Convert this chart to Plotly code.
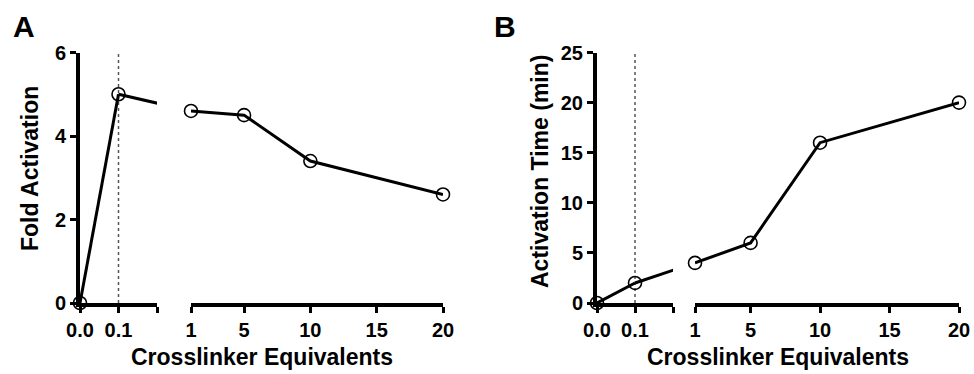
import plotly.graph_objects as go

# ---------------- data ----------------
conc_low = [0.0, 0.1]            # crosslinker equivalents, left (zoomed) segment
conc_high = [1, 5, 10, 20]       # crosslinker equivalents, right segment
fold_low = [0.0, 5.0]            # panel A: fold activation
fold_high = [4.6, 4.5, 3.4, 2.6]
time_low = [0.0, 2.0]            # panel B: activation time (min)
time_high = [4.0, 6.0, 16.0, 20.0]

left_tickvals = [0.0, 0.1, 0.2]
left_ticktext = ["0.0", "0.1", ""]
right_tickvals = [1, 5, 10, 15, 20]
right_ticktext = ["1", "5", "10", "15", "20"]
fold_ticks = [0, 2, 4, 6]
time_ticks = [0, 5, 10, 15, 20, 25]
ref_line_x = 0.1

panel_letters = ["A", "B"]
y_titles = ["Fold Activation", "Activation Time (min)"]
x_title = "Crosslinker Equivalents"

# ---------------- layout geometry ----------------
W, H = 974, 374
left_range = [0, 0.2]
right_range = [1, 20]
ydom = [1 - 303 / H, 1 - 52.5 / H]
dom = {
    "A_left": [80 / W, 157 / W],
    "A_right": [191 / W, 443 / W],
    "B_left": [597 / W, 673 / W],
    "B_right": [695 / W, 959 / W],
}

FONT = "Liberation Sans, Arial, Helvetica, sans-serif"
tickfont = dict(family=FONT, size=20, color="black", weight="bold")
titlefont = dict(family=FONT, size=23, color="black", weight="bold")


def bridge_x(ld, rd):
    """Position of the first right-segment point expressed in left-axis units."""
    span = left_range[1] - left_range[0]
    return left_range[1] + (rd[0] - ld[1]) / (ld[1] - ld[0]) * span


fig = go.Figure()

marker = dict(symbol="circle-open", size=13, color="black", line=dict(width=1.6, color="black"))
line = dict(color="black", width=3)

panels = [
    ("x", "x2", "y", "A_left", "A_right", fold_low, fold_high, fold_ticks),
    ("x3", "x4", "y2", "B_left", "B_right", time_low, time_high, time_ticks),
]
for xl, xr, yy, dl, dr, ylow, yhigh, yt in panels:
    # dotted reference line at 0.1 spanning the full y range
    fig.add_trace(go.Scatter(
        x=[ref_line_x, ref_line_x], y=[yt[0], yt[-1]], mode="lines",
        line=dict(color="#555555", width=1.5, dash="dot"), xaxis=xl, yaxis=yy,
        showlegend=False, hoverinfo="skip"))
    # connector from last low point toward first high point (clipped at break)
    fig.add_trace(go.Scatter(
        x=[conc_low[-1], bridge_x(dom[dl], dom[dr])], y=[ylow[-1], yhigh[0]],
        mode="lines", line=line, xaxis=xl, yaxis=yy, showlegend=False, hoverinfo="skip"))
    fig.add_trace(go.Scatter(
        x=conc_low, y=ylow, mode="lines+markers", line=line, marker=marker,
        cliponaxis=False, xaxis=xl, yaxis=yy, showlegend=False))
    fig.add_trace(go.Scatter(
        x=conc_high, y=yhigh, mode="lines+markers", line=line, marker=marker,
        cliponaxis=False, xaxis=xr, yaxis=yy, showlegend=False))

axis_common = dict(
    showline=True, linewidth=4, linecolor="#000000", ticks="outside", ticklen=6,
    tickwidth=3, tickcolor="#000000", showgrid=False, zeroline=False,
    tickfont=tickfont, automargin=False,
)

fig.update_layout(
    width=W, height=H,
    margin=dict(l=0, r=0, t=0, b=0, autoexpand=False),
    plot_bgcolor="white", showlegend=False,
    xaxis=dict(domain=dom["A_left"], range=left_range, tickmode="array",
               tickvals=left_tickvals, ticktext=left_ticktext, anchor="y", **axis_common),
    xaxis2=dict(domain=dom["A_right"], range=right_range, tickmode="array",
                tickvals=right_tickvals, ticktext=right_ticktext, anchor="y", **axis_common),
    xaxis3=dict(domain=dom["B_left"], range=left_range, tickmode="array",
                tickvals=left_tickvals, ticktext=left_ticktext, anchor="y2", **axis_common),
    xaxis4=dict(domain=dom["B_right"], range=right_range, tickmode="array",
                tickvals=right_tickvals, ticktext=right_ticktext, anchor="y2", **axis_common),
    yaxis=dict(domain=ydom, range=[fold_ticks[0], fold_ticks[-1]], tickmode="array",
               tickvals=fold_ticks, anchor="x", **axis_common),
    yaxis2=dict(domain=ydom, range=[time_ticks[0], time_ticks[-1]], tickmode="array",
                tickvals=time_ticks, anchor="x3", **axis_common),
)

ann = []
for letter, px in zip(panel_letters, [11, 492]):
    ann.append(dict(text=letter, x=px / W, y=1 - 27 / H, xref="paper", yref="paper",
                    xanchor="left", yanchor="middle", showarrow=False,
                    font=dict(family=FONT, size=30, color="black", weight="bold")))
for t, px, py in zip(y_titles, [30, 540], [169, 172]):
    ann.append(dict(text=t, x=px / W, y=1 - py / H, xref="paper", yref="paper",
                    xanchor="center", yanchor="middle", textangle=-90, showarrow=False,
                    font=titlefont))
for dl, dr in [("A_left", "A_right"), ("B_left", "B_right")]:
    cx = (dom[dl][0] + dom[dr][1]) / 2
    ann.append(dict(text=x_title, x=cx, y=1 - 357 / H, xref="paper", yref="paper",
                    xanchor="center", yanchor="middle", showarrow=False, font=titlefont))
fig.update_layout(annotations=ann)

fig.write_html(
    "out.html",
    config={"displayModeBar": False},
    post_script="document.body.style.margin='0';document.body.style.padding='0';"
                "document.body.style.overflow='hidden';",
)
